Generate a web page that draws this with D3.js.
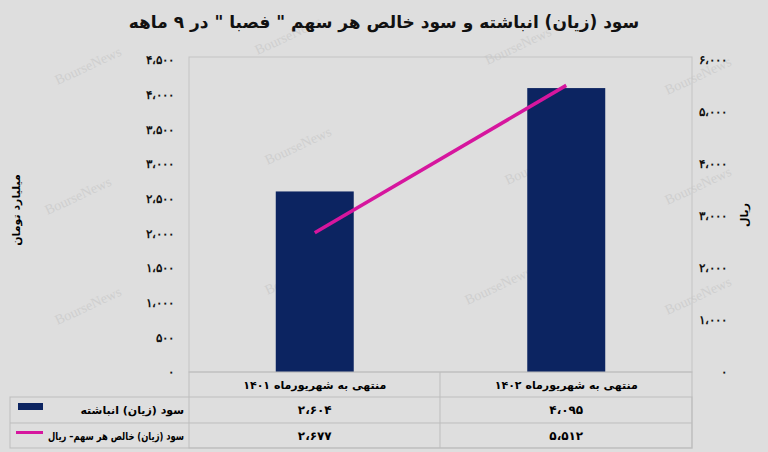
<!DOCTYPE html>
<html><head><meta charset="utf-8">
<script src="https://cdn.jsdelivr.net/npm/d3@7"></script>
<style>body{margin:0;background:#dedede;font-family:"DejaVu Sans",sans-serif}</style>
</head><body><svg id="c" width="768" height="452"></svg>
<script>
const categories = ["منتهی به شهریورماه ۱۴۰۱", "منتهی به شهریورماه ۱۴۰۲"];
const barValues = [2604, 4095];
const lineValues = [2677, 5512];
const barLabels = ["۲،۶۰۴", "۴،۰۹۵"];
const lineLabels = ["۲،۶۷۷", "۵،۵۱۲"];
const seriesNames = ["سود (زیان) انباشته", "سود (زیان) خالص هر سهم– ریال"];
const leftTicks = [0,500,1000,1500,2000,2500,3000,3500,4000,4500];
const rightTicks = [0,1000,2000,3000,4000,5000,6000];
const title = "سود (زیان) انباشته و سود خالص هر سهم \" فصبا \" در ۹ ماهه";

const fa = n => { let s = d3.format(",")(n).replace(/,/g,"،"); return s.replace(/[0-9]/g, d => "۰۱۲۳۴۵۶۷۸۹"[d]); };
const svg = d3.select("#c");
svg.append("rect").attr("width",768).attr("height",452).attr("fill","#dedede");
const L=189, R=692, T=60, B=372;
const x = d3.scaleBand().domain(categories).range([L,R]).paddingInner(0.69).paddingOuter(0.345);
const yL = d3.scaleLinear().domain([0,4500]).range([B,T]);
const yR = d3.scaleLinear().domain([0,6000]).range([B,T]);

[[90,70],[290,40],[520,50],[700,80],[80,200],[300,150],[540,170],[700,190],[90,310],[300,280],[500,290],[700,300]].forEach(p=>
  svg.append("text").attr("transform",`translate(${p[0]},${p[1]}) rotate(-25)`).attr("text-anchor","middle")
   .attr("font-family","Liberation Serif").attr("font-size",14).attr("fill","#cfcfcf").text("BourseNews"));

svg.append("rect").attr("x",L).attr("y",T-3).attr("width",R-L).attr("height",B-T+3).attr("fill","none").attr("stroke","#c4c4c4");

const gl = svg.append("g").attr("transform",`translate(${L-12},0)`)
  .call(d3.axisLeft(yL).tickValues(leftTicks).tickSize(0).tickFormat(fa));
const gr = svg.append("g").attr("transform",`translate(${R+38},0)`)
  .call(d3.axisLeft(yR).tickValues(rightTicks).tickSize(0).tickFormat(fa));
[gl,gr].forEach(g=>{g.select(".domain").remove();g.selectAll("text").attr("font-size",12).attr("font-weight","bold").attr("fill","#111");});

svg.selectAll(".bar").data(barValues).enter().append("rect")
  .attr("x",(d,i)=>x(categories[i])).attr("width",x.bandwidth())
  .attr("y",d=>yL(d)).attr("height",d=>B-yL(d)).attr("fill","#0c2461");
svg.append("path").datum(lineValues)
  .attr("d", d3.line().x((d,i)=>x(categories[i])+x.bandwidth()/2).y(d=>yR(d)))
  .attr("stroke","#d6169e").attr("stroke-width",3.5).attr("fill","none");

svg.append("text").attr("x",384).attr("y",28).attr("text-anchor","middle").attr("font-size",17).attr("font-weight","bold").attr("fill","#111").text(title);
svg.append("text").attr("transform","translate(20,210) rotate(-90)").attr("text-anchor","middle").attr("font-size",11).attr("font-weight","bold").text("میلیارد تومان");
svg.append("text").attr("transform","translate(748,215) rotate(-90)").attr("text-anchor","middle").attr("font-size",11).attr("font-weight","bold").text("ریال");

const tg = svg.append("g").attr("stroke","#bdbdbd").attr("fill","none");
tg.append("rect").attr("x",10).attr("y",397).attr("width",682).attr("height",51);
tg.append("rect").attr("x",189).attr("y",372).attr("width",503).attr("height",76);
tg.append("line").attr("x1",440).attr("x2",440).attr("y1",372).attr("y2",448);
tg.append("line").attr("x1",10).attr("x2",692).attr("y1",423).attr("y2",423);
const cx = i => x(categories[i])+x.bandwidth()/2;
categories.forEach((c,i)=>{
  svg.append("text").attr("x",cx(i)).attr("y",389).attr("text-anchor","middle").attr("font-size",11).attr("font-weight","bold").text(c);
  svg.append("text").attr("x",cx(i)).attr("y",414).attr("text-anchor","middle").attr("font-size",12).attr("font-weight","bold").text(barLabels[i]);
  svg.append("text").attr("x",cx(i)).attr("y",440).attr("text-anchor","middle").attr("font-size",12).attr("font-weight","bold").text(lineLabels[i]);
});
svg.append("rect").attr("x",18).attr("y",403).attr("width",25).attr("height",7).attr("fill","#0c2461");
svg.append("rect").attr("x",16).attr("y",431).attr("width",27).attr("height",3).attr("fill","#d6169e");
svg.append("text").attr("x",184).attr("y",414).attr("text-anchor","end").attr("font-size",11).attr("font-weight","bold").text(seriesNames[0]);
svg.append("text").attr("x",184).attr("y",440).attr("text-anchor","end").attr("font-size",11).attr("font-weight","bold")
  .attr("textLength",136).attr("lengthAdjust","spacingAndGlyphs").text(seriesNames[1]);
</script></body></html>
